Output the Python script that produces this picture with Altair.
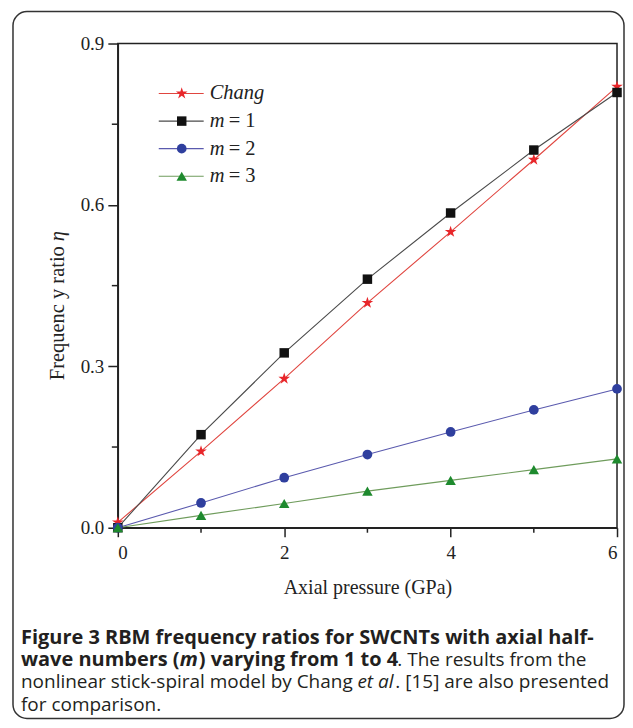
import altair as alt
import pandas as pd

# ---- data ----
pressure = [0, 1, 2, 3, 4, 5, 6]
chang = [0.010, 0.142, 0.277, 0.418, 0.550, 0.684, 0.820]
m1 = [0.000, 0.173, 0.325, 0.462, 0.585, 0.702, 0.809]
m2 = [0.000, 0.046, 0.093, 0.136, 0.178, 0.219, 0.258]
m3 = [0.000, 0.023, 0.045, 0.068, 0.088, 0.108, 0.128]

series_names = ["Chang", "m = 1", "m = 2", "m = 3"]
series_values = [chang, m1, m2, m3]

x_major = [0, 2, 4, 6]
x_minor = [1, 3, 5]
y_major = [0.0, 0.3, 0.6, 0.9]
y_minor = [0.15, 0.45, 0.75]

# ---- styles ----
marker_color = ["#e8262a", "#111111", "#2f3f9e", "#1e8a2e"]
line_color = ["#e0453f", "#4a4a4a", "#5a5aae", "#6f9c5c"]
shapes = ["M0,-1L0.2245,-0.309L0.951,-0.309L0.363,0.118L0.588,0.809L0,0.382L-0.588,0.809L-0.363,0.118L-0.951,-0.309L-0.2245,-0.309Z",
          "square", "circle", "triangle-up"]
sizes = [150, 90, 95, 110]

W, H = 500, 485
SERIF = "Liberation Serif"
SANS = "Open Sans"

xs = alt.Scale(domain=[0, 6], nice=False)
ys = alt.Scale(domain=[0, 0.9], nice=False)

layers = []

# axes carrier
base_df = pd.DataFrame({"p": pressure, "v": m1})
axes = alt.Chart(base_df).mark_point(opacity=0).encode(
    x=alt.X("p:Q", scale=xs, axis=alt.Axis(values=x_major, format="d", tickSize=9, labelPadding=7,
                                           title="Axial pressure (GPa)", titlePadding=15)),
    y=alt.Y("v:Q", scale=ys, axis=alt.Axis(values=y_major, format=".1f", tickSize=10, labelPadding=4, title=None)),
)
layers.append(axes)

# minor ticks
minor_x_df = pd.DataFrame({"p": x_minor})
layers.append(alt.Chart(minor_x_df).mark_rule(color="#222", strokeWidth=1.5).encode(
    x=alt.X("p:Q", scale=xs), y=alt.value(H), y2=alt.value(H + 5)))
minor_y_df = pd.DataFrame({"v": y_minor})
layers.append(alt.Chart(minor_y_df).mark_rule(color="#222", strokeWidth=1.5).encode(
    y=alt.Y("v:Q", scale=ys), x=alt.value(0), x2=alt.value(-6)))

# series
for name, vals, mc, lc, shp, sz in zip(series_names, series_values, marker_color, line_color, shapes, sizes):
    df = pd.DataFrame({"p": pressure, "v": vals})
    layers.append(alt.Chart(df).mark_line(color=lc, strokeWidth=1.1).encode(
        x=alt.X("p:Q", scale=xs), y=alt.Y("v:Q", scale=ys)))
for name, vals, mc, lc, shp, sz in zip(series_names, series_values, marker_color, line_color, shapes, sizes):
    df = pd.DataFrame({"p": pressure, "v": vals})
    layers.append(alt.Chart(df).mark_point(filled=True, color=mc, shape=shp, size=sz, opacity=1).encode(
        x=alt.X("p:Q", scale=xs), y=alt.Y("v:Q", scale=ys)))

# legend (custom, inside plot)
one = alt.Data(values=[{}])
leg_y = [50, 77.7, 105.3, 133]
for i, (name, mc, lc, shp, sz) in enumerate(zip(series_names, marker_color, line_color, shapes, sizes)):
    ly = leg_y[i]
    layers.append(alt.Chart(one).mark_rule(color=lc, strokeWidth=1.1).encode(
        x=alt.value(41), x2=alt.value(86), y=alt.value(ly)))
    layers.append(alt.Chart(one).mark_point(filled=True, color=mc, shape=shp, size=sz, opacity=1).encode(
        x=alt.value(64), y=alt.value(ly)))
    if name == "Chang":
        layers.append(alt.Chart(one).mark_text(text="Chang", font=SERIF, fontSize=20.5, fontStyle="italic",
                                               align="left", baseline="middle", color="#222").encode(
            x=alt.value(92), y=alt.value(ly)))
    else:
        layers.append(alt.Chart(one).mark_text(text="m", font=SERIF, fontSize=20.5, fontStyle="italic",
                                               align="left", baseline="middle", color="#222").encode(
            x=alt.value(92), y=alt.value(ly)))
        layers.append(alt.Chart(one).mark_text(text="= " + name.split("= ")[1], font=SERIF, fontSize=20.5,
                                               align="left", baseline="middle", color="#222").encode(
            x=alt.value(111), y=alt.value(ly)))

# y title (mixed styles)
layers.append(alt.Chart(one).mark_text(text="Frequenc y ratio", font=SERIF, fontSize=20.5, angle=270,
                                       align="right", baseline="middle", color="#222").encode(
    x=alt.value(-60), y=alt.value(203)))
layers.append(alt.Chart(one).mark_text(text="η", font=SERIF, fontSize=20.5, fontStyle="italic", angle=270,
                                       align="left", baseline="middle", color="#222").encode(
    x=alt.value(-60), y=alt.value(198)))

# caption
cap = [
    # (text, x, y, weight, style, size)
    ("Figure 3 RBM frequency ratios for SWCNTs with axial half-", -97, 595, "bold", "normal", 20),
    ("wave numbers (", -97, 617.5, "bold", "normal", 20),
    ("m", 62, 617.5, "bold", "italic", 20),
    (") varying from 1 to 4", 81, 617.5, "bold", "normal", 20),
    (". The results from the", 280, 617.5, "normal", "normal", 19),
    ("nonlinear stick-spiral model by Chang", -97, 640, "normal", "normal", 19),
    ("et al", 240, 640, "normal", "italic", 19),
    (". [15] are also presented", 278, 640, "normal", "normal", 19),
    ("for comparison.", -97, 662.5, "normal", "normal", 19),
]
for t, cx, cy, w, st, fs in cap:
    layers.append(alt.Chart(one).mark_text(text=t, font=SANS, fontSize=fs, fontWeight=w, fontStyle=st,
                                           align="left", baseline="middle", color="#231f20").encode(
        x=alt.value(cx), y=alt.value(cy)))

# rounded frame around the figure
layers.append(alt.Chart(one).mark_rect(fill=None, fillOpacity=0, stroke="#333", strokeWidth=1.5,
                                       cornerRadius=14).encode(
    x=alt.value(-105), x2=alt.value(507), y=alt.value(-32), y2=alt.value(676)))

chart = alt.layer(*layers).properties(
    width=W, height=H,
    padding={"left": 4, "top": 2, "right": 0, "bottom": 0},
    background="white",
).configure_view(stroke="#222", strokeWidth=1.5).configure_axis(
    grid=False, domainColor="#222", domainWidth=1.5, tickColor="#222", tickWidth=1.5,
    labelFont=SERIF, labelFontSize=19, labelColor="#222",
    titleFont=SERIF, titleFontSize=20, titleFontWeight="normal", titleColor="#222",
)

chart.save("out.html", embed_options={"renderer": "svg", "actions": False})
